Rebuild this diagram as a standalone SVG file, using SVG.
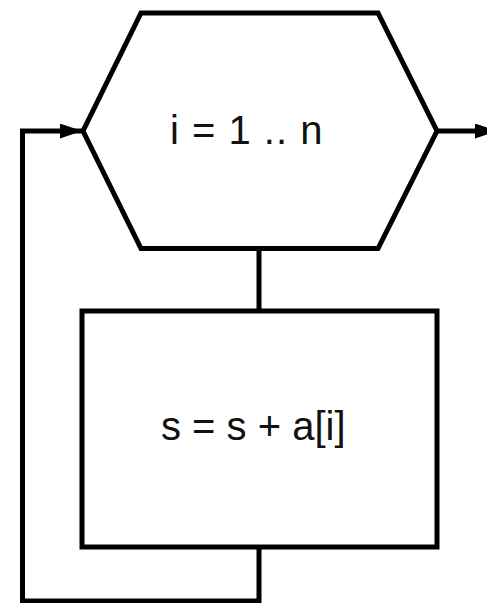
<svg xmlns="http://www.w3.org/2000/svg" width="487" height="603" viewBox="0 0 487 603">
  <style>
    .shape { fill: #ffffff; stroke: #000000; stroke-width: 5; stroke-linejoin: miter; }
    .conn { fill: none; stroke: #000000; stroke-width: 5; stroke-linejoin: miter; }
    .label { font-family: "Liberation Sans", Arial, sans-serif; font-size: 40px; fill: #111111; }
  </style>
  <defs>
    <marker id="arrow" markerUnits="userSpaceOnUse" markerWidth="24" markerHeight="16" refX="22" refY="7.5" orient="auto">
      <polygon points="0,0 22,7.5 0,15" fill="#000000"/>
    </marker>
  </defs>
  <rect x="0" y="0" width="487" height="603" fill="#ffffff"/>
  <g id="connectors">
    <line class="conn" x1="259" y1="248" x2="259" y2="311"/>
    <polyline class="conn" points="259,547 259,601 22.5,601 22.5,131 82,131" marker-end="url(#arrow)"/>
    <line class="conn" x1="437" y1="131" x2="497" y2="131" marker-end="url(#arrow)"/>
  </g>
  <g id="loop">
    <polygon class="shape" points="141,13 378,13 437,131 378,248.5 141,248.5 83,131"/>
    <text class="label" x="170" y="144" letter-spacing="1">i = 1 .. n</text>
  </g>
  <g id="body">
    <rect class="shape" x="82" y="311" width="355" height="236"/>
    <text class="label" x="161" y="440">s = s + a[i]</text>
  </g>
</svg>
